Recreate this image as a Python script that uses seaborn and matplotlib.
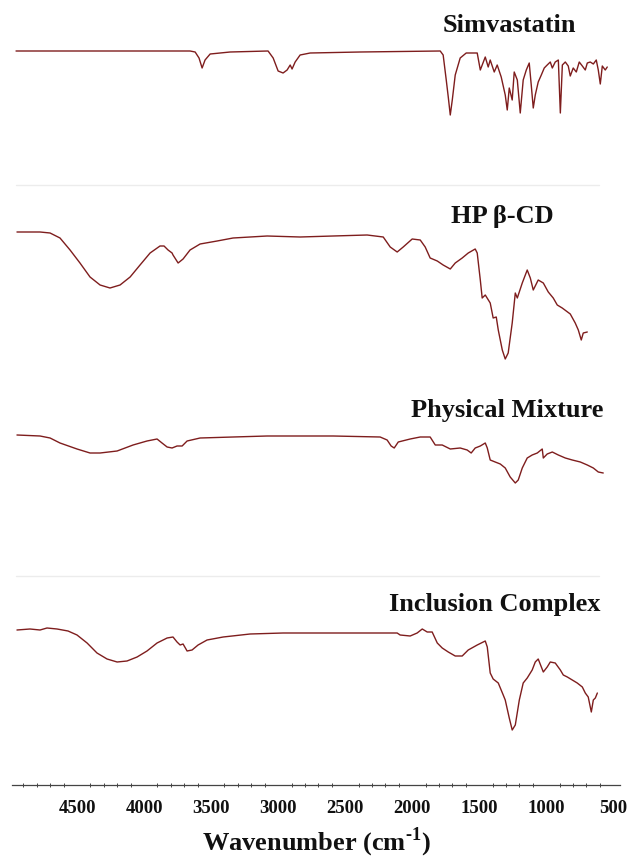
import matplotlib
matplotlib.use("Agg")
import matplotlib.pyplot as plt
import seaborn as sns
import pandas as pd

# FTIR spectra: wavenumber (cm-1) and transmittance (%)
sim_wn = [4955, 4328, 3657, 3619, 3590, 3567, 3545, 3507, 3358, 3075, 3037, 3000,
          2963, 2933, 2910, 2896, 2873, 2836, 2761, 2388, 1791, 1769, 1746, 1731,
          1716, 1701, 1679, 1642, 1597, 1515, 1492, 1455, 1433, 1418, 1388, 1366,
          1336, 1306, 1291, 1276, 1254, 1239, 1216, 1194, 1172, 1149, 1127, 1112,
          1097, 1082, 1060, 1037, 1015, 993, 970, 955, 933, 910, 895, 880, 858,
          836, 821, 799, 776, 754, 731, 709, 694, 672, 649, 627, 612, 597, 582,
          560, 545]
sim_t = [74.5, 74.5, 74.5, 74, 71, 66, 70, 73, 74, 74.5, 71, 64.5,
         63.5, 65, 67.5, 65.5, 69, 72.5, 73.5, 74, 74.5, 72.5, 60, 51.5,
         42.5, 50, 62.5, 71, 73.5, 73.5, 65, 71.5, 66.5, 70, 64, 67.5,
         61.5, 52.5, 45, 56, 50, 64, 60, 43.5, 60, 65, 68.5, 57.5,
         46, 52.5, 59, 62.5, 66, 67.5, 69, 66, 69, 70, 43.5, 67.5, 69,
         67, 62, 66, 64, 69, 67, 65, 68.5, 69, 68, 70, 65, 58, 67,
         65, 66.5]

hp_wn = [4948, 4776, 4701, 4627, 4552, 4478, 4403, 4328, 4254, 4179, 4104, 4030,
         3955, 3881, 3851, 3821, 3791, 3784, 3746, 3709, 3657, 3582, 3455, 3336,
         3082, 2836, 2590, 2336, 2216, 2164, 2112, 2067, 2000, 1940, 1903, 1866,
         1813, 1769, 1716, 1679, 1627, 1582, 1530, 1515, 1492, 1478, 1455, 1418,
         1396, 1373, 1358, 1328, 1306, 1284, 1254, 1231, 1216, 1179, 1142, 1119,
         1097, 1060, 1022, 985, 948, 918, 881, 821, 784, 761, 739, 724, 694]
hp_t = [76.5, 76.5, 76, 73.5, 67.5, 61, 54, 50, 48.5, 50, 54, 60,
        66, 69.5, 69.5, 67.5, 66, 65, 61, 63, 67.5, 70.5, 72, 73.5,
        74.5, 74, 74.5, 75, 74, 69, 66.5, 69, 73, 72.5, 69, 63.5,
        62, 60, 58, 61, 63.5, 66, 68, 66, 52.5, 43.5, 45, 41,
        33.5, 34, 27.5, 17.5, 13, 16, 31, 46, 43.5, 51, 57.5, 53.5,
        47.5, 52.5, 51, 46.5, 43.5, 40, 38.5, 35.5, 31, 27.5, 22.5, 26, 26.5]

pm_wn = [4948, 4776, 4701, 4627, 4500, 4403, 4328, 4201, 4082, 3978, 3903, 3866,
         3828, 3791, 3754, 3716, 3679, 3582, 3336, 3082, 2590, 2239, 2187, 2157,
         2134, 2104, 2015, 1940, 1866, 1828, 1776, 1716, 1642, 1590, 1560, 1530,
         1492, 1455, 1440, 1418, 1381, 1343, 1306, 1269, 1231, 1209, 1179, 1142,
         1105, 1067, 1030, 1022, 993, 955, 910, 858, 806, 746, 694, 649, 612, 575]
pm_t = [71.5, 71, 70, 67.5, 64.5, 62.5, 62.5, 63.5, 66.5, 68.5, 69.5, 67.5,
        65.5, 65, 66, 66, 68.5, 70, 70.5, 71, 71, 70.5, 69, 66,
        65, 68, 69.5, 70.5, 70.5, 66.5, 66.5, 64.5, 65, 64, 62.5, 65,
        66, 67.5, 65, 59, 58, 57, 55, 50.5, 47.5, 49, 55, 60,
        61.5, 62.5, 64.5, 60, 62, 63, 61.5, 60, 59, 58, 56.5, 55, 53, 52.5]

ic_wn = [4948, 4851, 4776, 4724, 4649, 4567, 4500, 4425, 4351, 4276, 4201, 4127,
         4052, 3978, 3903, 3828, 3784, 3754, 3731, 3709, 3679, 3642, 3597, 3530,
         3410, 3209, 2963, 2590, 2336, 2112, 2090, 2015, 1963, 1925, 1888, 1851,
         1813, 1776, 1731, 1679, 1627, 1582, 1515, 1455, 1440, 1418, 1396, 1358,
         1321, 1306, 1276, 1254, 1231, 1201, 1172, 1142, 1105, 1082, 1060, 1022,
         993, 970, 933, 895, 873, 843, 806, 769, 731, 709, 687, 664, 649, 634, 619]
ic_t = [73, 73.5, 73, 74, 73.5, 72.5, 70.5, 66.5, 61.5, 58.5, 57, 57.5,
        59.5, 62.5, 66.5, 69, 69.5, 67, 65.5, 66, 62.5, 63, 65.5, 68,
        69.5, 71, 71.5, 71.5, 71.5, 71.5, 70.5, 70, 71.5, 73.5, 72, 72,
        66.5, 64, 62, 60, 60, 63, 65.5, 67.5, 64.5, 51.5, 48.5, 46.5,
        40.5, 38, 29, 23, 25.5, 38, 46.5, 49, 53, 57, 58.5, 52,
        54.5, 57, 56.5, 53, 50.5, 49.5, 48, 46.5, 44.5, 41.5, 39.5, 32, 38, 39, 41.5]

names = ["Simvastatin", "HP β-CD", "Physical Mixture", "Inclusion Complex"]
spectra = [(sim_wn, sim_t), (hp_wn, hp_t), (pm_wn, pm_t), (ic_wn, ic_t)]
label_pos = [(1276, 87.5), (1328, 84), (1291, 84), (1381, 85.5)]
y_low = [7.5, 3.5, 1, -4.5]
panel_h = [185, 193, 198, 209]

sns.set_style("white")
plt.rcParams["font.family"] = ["Liberation Serif", "DejaVu Serif"]
plt.rcParams["mathtext.fontset"] = "custom"
plt.rcParams["mathtext.rm"] = "Liberation Serif:bold"
plt.rcParams["mathtext.bf"] = "Liberation Serif:bold"

line_color = "#7e1d1d"
ink = "#111111"

fig = plt.figure(figsize=(6.31, 8.59), dpi=100)
gs = fig.add_gridspec(4, 1, height_ratios=panel_h, hspace=0,
                      left=12 / 631, right=620 / 631, top=1.0, bottom=74 / 859)
axes = [fig.add_subplot(gs[i]) for i in range(4)]

for i, ax in enumerate(axes):
    wn, t = spectra[i]
    df = pd.DataFrame({"wn": wn, "T": t})
    sns.lineplot(data=df, x="wn", y="T", ax=ax, color=line_color, lw=1.0,
                 estimator=None, sort=False)
    ax.set_xlim(4985, 450)
    ax.set_ylim(y_low[i], 100)
    ax.set_xlabel("")
    ax.set_ylabel("")
    ax.set_yticks([])
    for s in ["left", "right", "top", "bottom"]:
        ax.spines[s].set_visible(False)
    ax.text(label_pos[i][0], label_pos[i][1], names[i], ha="center", va="center",
            fontsize=19, fontweight="bold", color=ink)
    if i in (1, 3):
        # faint border left over between the stacked panels
        ax.axhline(100, xmin=0.006, xmax=0.965, color="#ececec", lw=1.0, clip_on=False)
    if i < 3:
        ax.set_xticks([])

bottom = axes[-1]
bottom.spines["bottom"].set_visible(True)
bottom.spines["bottom"].set_color("#444444")
bottom.spines["bottom"].set_linewidth(0.9)
bottom.set_xticks([4500, 4000, 3500, 3000, 2500, 2000, 1500, 1000, 500])
bottom.set_xticks(list(range(4900, 400, -100)), minor=True)
bottom.tick_params(axis="x", which="major", direction="inout", length=4, width=0.8,
                   color="#444444", pad=9, labelsize=13.5, labelcolor=ink)
bottom.tick_params(axis="x", which="minor", direction="inout", length=2.5, width=0.7,
                   color="#444444", bottom=True)
for lab in bottom.get_xticklabels():
    lab.set_fontweight("bold")
bottom.set_xlabel(r"Wavenumber (cm$^{\text{-1}}$)", fontsize=19, fontweight="bold",
                  labelpad=6, color=ink)

fig.savefig("out.png", dpi=100)
